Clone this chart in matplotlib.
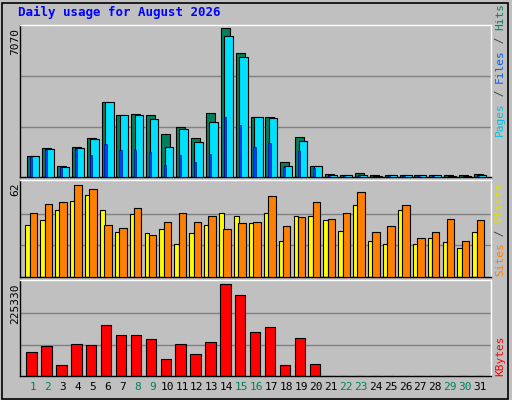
import matplotlib
matplotlib.use("Agg")
import matplotlib.pyplot as plt
import numpy as np

days = list(range(1, 32))
weekends = [1, 2, 8, 9, 15, 16, 22, 23, 29, 30]
hits = [974,1351,503,1398,1823,3519,2891,2938,2891,2011,2325,1823,2985,6944,5813,2797,2797,723,1854,534,126,110,173,79,110,110,110,110,79,79,126]
files = [974,1288,456,1335,1760,3519,2891,2891,2702,1398,2247,1634,2577,6583,5625,2797,2750,534,1665,534,110,79,110,47,110,110,79,79,47,47,110]
pages = [927,1257,456,1288,1021,1540,1257,1257,1163,550,1021,691,1068,2812,2435,1398,1587,456,1210,408,30,30,30,20,30,30,30,30,20,20,30]
sites = [33.9,37.2,43.7,49.6,53.5,43.7,29.4,41.1,28.7,31.3,21.5,28.7,33.9,41.8,39.8,35.2,41.8,23.5,39.8,39.8,37.2,30.0,47.0,23.5,21.5,43.7,21.5,25.5,22.8,18.9,29.4]
visits = [41.8,47.6,48.9,60.0,57.4,33.9,32.0,45.0,27.4,35.9,41.8,35.9,39.8,31.3,35.2,35.9,52.9,33.3,39.2,48.9,37.9,41.8,55.5,29.4,33.3,47.0,25.5,29.4,37.9,23.5,37.2]
kbytes = [58150,72690,26650,77530,75110,121140,99340,99340,89650,41190,77530,53300,82380,220480,193830,104180,116300,26650,92070,29070,0,0,0,0,0,0,0,0,0,0,0]
max_hits, max_visits, max_kb = 7070, 62, 225330

W, H = 512, 400
BG = "#c0c0c0"
fig = plt.figure(figsize=(W/100, H/100), dpi=100, facecolor=BG)
x = np.array(days, dtype=float)

def mkax(top, bottom):
    ax = fig.add_axes([20/W, 1-bottom/H, 471/W, (bottom-top)/H], facecolor=BG)
    ax.set_xlim(0.13, 31.74)
    ax.set_xticks([]); ax.set_yticks([])
    for s in ax.spines.values():
        s.set_color("black"); s.set_linewidth(1)
    ax.spines['top'].set_color("white"); ax.spines['right'].set_color("white")
    return ax

# frame border
fig.patches.append(plt.Rectangle((0.003, 0.003), 0.99, 0.99, transform=fig.transFigure, fill=False, ec="black", lw=1.2))

ax1 = mkax(25, 177)
ax1.set_ylim(0, max_hits * 1.005)
for g in [max_hits/3, 2*max_hits/3]:
    ax1.axhline(g, color="#808080", lw=1, zorder=0)
ax1.bar(x-0.1, hits, width=0.6, color="#00805c", ec="black", lw=0.8, zorder=2)
ax1.bar(x+0.12, files, width=0.58, color="#00e0ff", ec="black", lw=0.8, zorder=3)
ax1.bar(x-0.13, pages, width=0.15, color="#0040ff", ec="#000080", lw=0.4, zorder=4)

ax2 = mkax(180, 277)
ax2.set_ylim(0, max_visits * 1.02)
for g in [max_visits/3, 2*max_visits/3]:
    ax2.axhline(g, color="#808080", lw=1, zorder=0)
ax2.bar(x-0.35, sites, width=0.32, color="#ffff00", ec="black", lw=0.8, zorder=2)
ax2.bar(x+0.03, visits, width=0.5, color="#ff8000", ec="black", lw=0.8, zorder=3)

ax3 = mkax(280, 376)
ax3.set_ylim(0, max_kb * 1.02)
for g in [max_kb/3, 2*max_kb/3]:
    ax3.axhline(g, color="#808080", lw=1, zorder=0)
ax3.bar(x-0.09, kbytes, width=0.7, color="#ff0000", ec="black", lw=0.8, zorder=2)
ax3.set_xticks(days)
ax3.set_xticklabels([str(d) for d in days], fontsize=8, family="DejaVu Sans Mono")
ax3.tick_params(axis='x', length=0, pad=4)
for lbl, d in zip(ax3.get_xticklabels(), days):
    lbl.set_color("#008060" if d in weekends else "black")

mono = "DejaVu Sans Mono"
fig.text(18/W, 1-12/H, "Daily usage for August 2026", color="#0000ff", fontsize=9, weight="bold", family=mono, va="center")
fig.text(15/W, 1-28/H, str(max_hits), rotation=90, fontsize=8, family=mono, ha="center", va="top")
fig.text(15/W, 1-182/H, str(max_visits), rotation=90, fontsize=8, family=mono, ha="center", va="top")
fig.text(15/W, 1-283/H, str(max_kb), rotation=90, fontsize=8, family=mono, ha="center", va="top")

def vlabel(parts, ybottom):
    y = ybottom
    for txt, col in parts:
        t = fig.text(500/W, 1-y/H, txt, rotation=90, fontsize=8, family=mono, color=col, ha="center", va="bottom")
        y -= len(txt) * 6.6
vlabel([("Pages", "#00c0e0"), (" / ", "#404040"), ("Files", "#0060ff"), (" / ", "#404040"), ("Hits", "#008060")], 136)
vlabel([("Sites", "#ff8000"), (" / ", "#404040"), ("Visits", "#e0e000")], 276)
vlabel([("KBytes", "#ff0000")], 376)

fig.savefig("out.png", dpi=100, facecolor=BG)
